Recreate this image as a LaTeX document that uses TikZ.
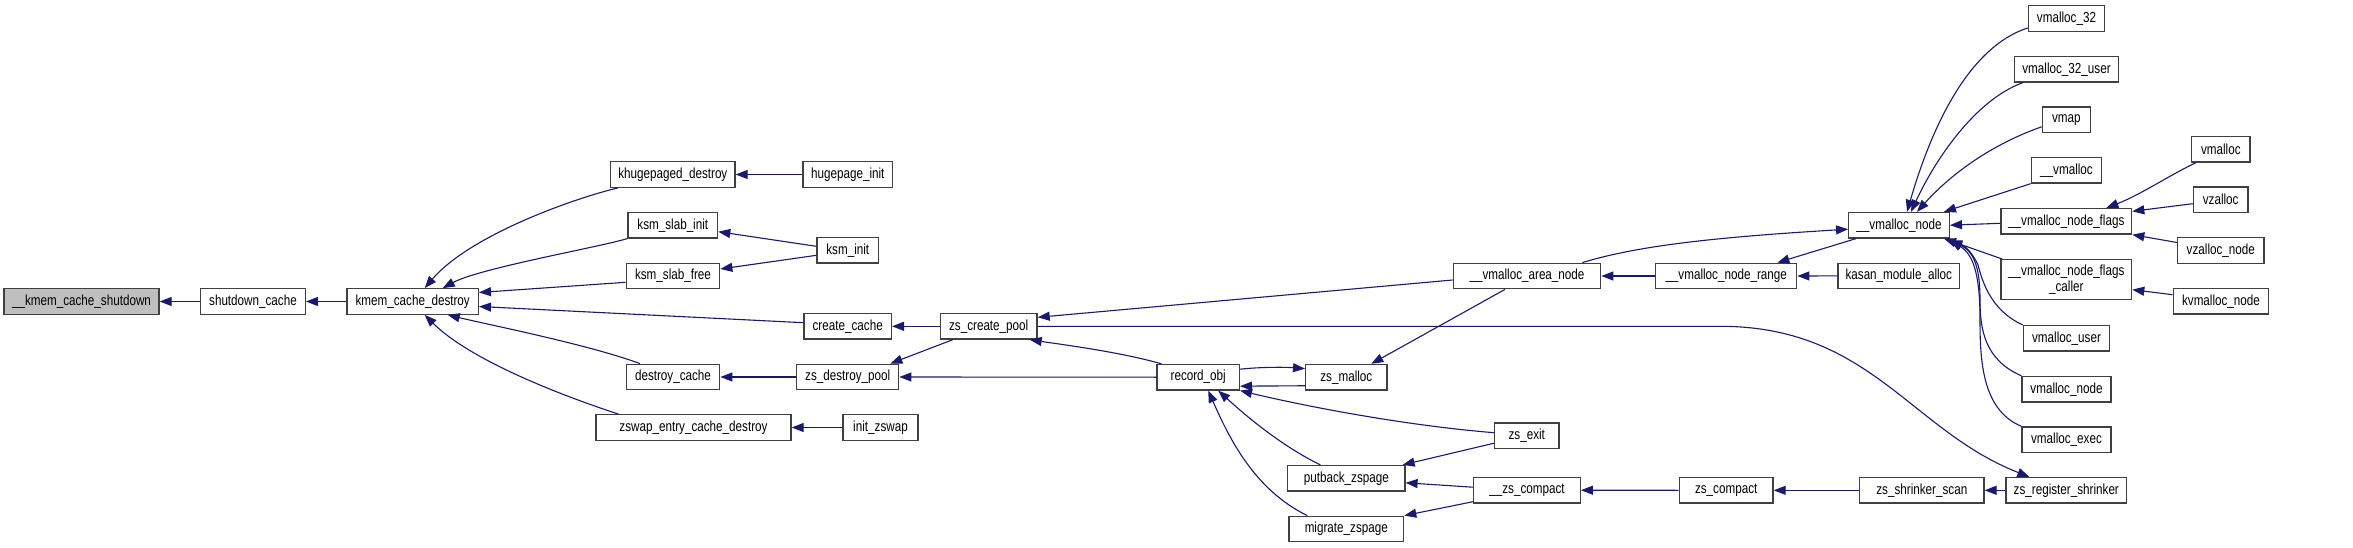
\documentclass[tikz,border=0pt]{standalone}
\usepackage{fontspec}
\setmainfont{Liberation Sans}[FakeStretch=0.8]
\usetikzlibrary{arrows.meta,calc}
\definecolor{edgeblue}{HTML}{191970}
\definecolor{boxgray}{HTML}{404040}
\definecolor{mainfill}{HTML}{BFBFBF}
\newcommand{\nodefont}{\fontsize{14.6}{16}\selectfont}
\begin{document}
\begin{tikzpicture}[x=1pt,y=-1pt,
  box/.style={draw=boxgray, fill=white, line width=1.3pt, minimum height=25.5pt, inner xsep=3pt, inner ysep=0pt, font=\nodefont, anchor=center},
  edge/.style={draw=edgeblue, line width=1.1pt, -{Triangle[length=12pt,width=9pt]}}]
\path[fill=white, use as bounding box] (0,0) rectangle (2353,548);
% column 0-2
\node[box, fill=mainfill, minimum width=155pt] (shut) at (81.5,301.5) {\_\_kmem\_cache\_shutdown};
\node[box, minimum width=104.6pt] (shutc) at (253,301.5) {shutdown\_cache};
\node[box, minimum width=131.3pt] (kcd) at (412.7,301.5) {kmem\_cache\_destroy};
% column 3
\node[box, minimum width=124.3pt] (khd) at (672.8,174.5) {khugepaged\_destroy};
\node[box, minimum width=89.7pt] (ksi) at (672.8,225.2) {ksm\_slab\_init};
\node[box, minimum width=93.4pt] (ksf) at (673,276) {ksm\_slab\_free};
\node[box, minimum width=93.4pt] (dc) at (673,377) {destroy\_cache};
\node[box, minimum width=195pt] (zecd) at (693.5,427.5) {zswap\_entry\_cache\_destroy};
% column 4
\node[box, minimum width=89.7pt] (hpi) at (847.8,174.5) {hugepage\_init};
\node[box, minimum width=61.7pt] (ksmi) at (847.8,250.3) {ksm\_init};
\node[box, minimum width=87.3pt] (cc) at (847.7,326.3) {create\_cache};
\node[box, minimum width=102pt] (zdp) at (847.7,377) {zs\_destroy\_pool};
\node[box, minimum width=75pt] (izs) at (880.5,427.5) {init\_zswap};
% column 5
\node[box, minimum width=96.7pt] (zcp) at (988.7,326.3) {zs\_create\_pool};
% column 6-7
\node[box, minimum width=82.3pt] (rec) at (1198.2,377.2) {record\_obj};
\node[box, minimum width=81.3pt] (zsm) at (1346.3,377.2) {zs\_malloc};
\node[box, minimum width=117.3pt] (pbz) at (1346.3,478.3) {putback\_zspage};
\node[box, minimum width=114.7pt] (mz) at (1346.3,529) {migrate\_zspage};
% column 8
\node[box, minimum width=147.4pt] (van) at (1527,276) {\_\_vmalloc\_area\_node};
\node[box, minimum width=64.3pt] (zse) at (1526.8,435.7) {zs\_exit};
\node[box, minimum width=106.6pt] (zsc2) at (1527,490.2) {\_\_zs\_compact};
% column 9
\node[box, minimum width=141pt] (vnr) at (1726.2,276) {\_\_vmalloc\_node\_range};
\node[box, minimum width=93.7pt] (zsc) at (1726.2,490.3) {zs\_compact};
% column 10
\node[box, minimum width=100.6pt] (vn) at (1899,225.2) {\_\_vmalloc\_node};
\node[box, minimum width=121.7pt] (kma) at (1898.8,275.9) {kasan\_module\_alloc};
\node[box, minimum width=124.3pt] (zss) at (1921.8,490.3) {zs\_shrinker\_scan};
% column 11
\node[box, minimum width=76.4pt] (v32) at (2066.5,18.5) {vmalloc\_32};
\node[box, minimum width=104.4pt] (v32u) at (2066.5,69.3) {vmalloc\_32\_user};
\node[box, minimum width=48pt] (vmap) at (2066.3,119.8) {vmap};
\node[box, minimum width=70.4pt] (uvm) at (2066.5,170.3) {\_\_vmalloc};
\node[box, minimum width=130.7pt] (vnf) at (2066.3,221.3) {\_\_vmalloc\_node\_flags};
\node[box, minimum width=130.7pt, minimum height=40pt, align=center] (vnfc) at (2066.3,279.7) {\_\_vmalloc\_node\_flags\\\_caller};
\node[box, minimum width=86.4pt] (vu) at (2066.5,338.3) {vmalloc\_user};
\node[box, minimum width=89pt] (vnode) at (2066.5,389.2) {vmalloc\_node};
\node[box, minimum width=89pt] (vexec) at (2066.5,439.7) {vmalloc\_exec};
\node[box, minimum width=120.7pt] (zrs) at (2066.3,490.3) {zs\_register\_shrinker};
% column 12
\node[box, minimum width=58.3pt] (vmalloc) at (2220.8,149.2) {vmalloc};
\node[box, minimum width=54.7pt] (vz) at (2220.7,199.7) {vzalloc};
\node[box, minimum width=86.3pt] (vzn) at (2220.8,250.5) {vzalloc\_node};
\node[box, minimum width=95.4pt] (kvn) at (2221,301.2) {kvmalloc\_node};

% edges
\draw[edge] (shutc.west) -- (shut.east);
\draw[edge] (kcd.west) -- (shutc.east);
\draw[edge] ($(khd.south west)+(8,0)$) .. controls (575,198) and (470,235) .. ($(kcd.north)+(12,0)$);
\draw[edge] (ksi.south west) .. controls (600,247) and (480,268) .. ($(kcd.north)+(30,0)$);
\draw[edge] ($(ksf.west)+(0,6.3)$) -- ($(kcd.east)+(0,-9)$);
\draw[edge] ($(cc.west)+(0,-3.6)$) -- ($(kcd.east)+(0,5)$);
\draw[edge] ($(dc.north)+(-33,0)$) .. controls (590,345) and (490,325) .. ($(kcd.south)+(35,0)$);
\draw[edge] ($(zecd.north)+(-75,0)$) .. controls (560,395) and (470,360) .. ($(kcd.south)+(12,0)$);
\draw[edge] (hpi.west) -- (khd.east);
\draw[edge] ($(ksmi.west)+(0,-4)$) -- ($(ksi.east)+(0,6.5)$);
\draw[edge] ($(ksmi.west)+(0,5)$) -- ($(ksf.east)+(0,-7)$);
\draw[edge] (zcp.west) -- (cc.east);
\draw[edge] (zdp.west) -- (dc.east);
\draw[edge] (izs.west) -- (zecd.east);
\draw[edge] ($(zcp.south west)+(13,0)$) -- ($(zdp.north east)+(-9,0)$);
\draw[edge] ($(rec.north west)+(5,0)$) .. controls (1120,352) and (1065,345) .. ($(zcp.south east)+(-8,0)$);
\draw[edge] (rec.west) -- (zdp.east);
\draw[edge] ($(van.west)+(0,4)$) -- ($(zcp.east)+(0,-9)$);
\draw[edge] (zcp.east) -- (1720,326.3) .. controls (1870,326.3) and (1910,430) .. ($(zrs.north)+(-37,0)$);
\draw[edge] ($(rec.east)+(0,-8)$) .. controls (1260,367) and (1285,367) .. ($(zsm.west)+(0,-8.5)$);
\draw[edge] ($(zsm.west)+(0,8.5)$) .. controls (1285,386) and (1260,386) .. ($(rec.east)+(0,9)$);
\draw[edge] ($(van.south)+(-22,0)$) -- ($(zsm.north)+(25,0)$);
\draw[edge] ($(zse.west)+(0,-3)$) .. controls (1400,425) and (1300,405) .. (rec.south east);
\draw[edge] ($(zse.west)+(0,7.5)$) -- ($(pbz.north east)+(-3,0)$);
\draw[edge] ($(pbz.north)+(-26,0)$) .. controls (1280,445) and (1245,415) .. ($(rec.south)+(20,0)$);
\draw[edge] ($(mz.north)+(-39,0)$) .. controls (1255,490) and (1230,440) .. ($(rec.south)+(10,0)$);
\draw[edge] ($(zsc2.west)+(0,-3)$) -- ($(pbz.east)+(0,4.5)$);
\draw[edge] ($(zsc2.west)+(0,11.5)$) -- (mz.north east);
\draw[edge] (zsc.west) -- (zsc2.east);
\draw[edge] (zss.west) -- (zsc.east);
\draw[edge] (zrs.west) -- (zss.east);
\draw[edge] (vnr.west) -- (van.east);
\draw[edge] (kma.west) -- (vnr.east);
\draw[edge] ($(vn.south west)+(8,0)$) -- ($(vnr.north east)+(-20,0)$);
\draw[edge] ($(van.north east)+(-19,0)$) .. controls (1640,245) and (1720,237) .. ($(vn.west)+(0,4)$);
\draw[edge] ($(v32.west)+(0,9.5)$) .. controls (1960,50) and (1925,150) .. ($(vn.north)+(8,0)$);
\draw[edge] ($(v32u.south west)+(9,0)$) .. controls (1975,100) and (1935,160) .. ($(vn.north)+(12,0)$);
\draw[edge] ($(vmap.west)+(0,7)$) .. controls (1990,145) and (1950,175) .. ($(vn.north)+(18,0)$);
\draw[edge] (uvm.south west) -- ($(vn.north east)+(-6,0)$);
\draw[edge] ($(vnf.west)+(0,2)$) -- (vn.east);
\draw[edge] ($(vnfc.north west)+(2,0)$) -- ($(vn.south east)+(-6,0)$);
\draw[edge] (vu.north west) .. controls (1990,310) and (1982,280) .. (1978,265) .. controls (1972,252) and (1965,246) .. ($(vn.south east)+(0,2)$);
\draw[edge] (vnode.north west) .. controls (1985,360) and (1980,330) .. (1980,300) .. controls (1980,270) and (1975,252) .. ($(vn.south east)+(0,2)$);
\draw[edge] (vexec.north west) .. controls (1982,410) and (1980,360) .. (1980,320) .. controls (1980,280) and (1975,255) .. ($(vn.south east)+(0,2)$);
\draw[edge] ($(vmalloc.south west)+(5,0)$) .. controls (2170,175) and (2140,195) .. ($(vnf.north)+(40,0)$);
\draw[edge] ($(vz.west)+(0,4)$) -- ($(vnf.east)+(0,-10)$);
\draw[edge] ($(vzn.west)+(0,-8)$) -- (vnf.south east);
\draw[edge] ($(kvn.west)+(0,-6.5)$) -- ($(vnfc.east)+(0,10)$);
\end{tikzpicture}
\end{document}
